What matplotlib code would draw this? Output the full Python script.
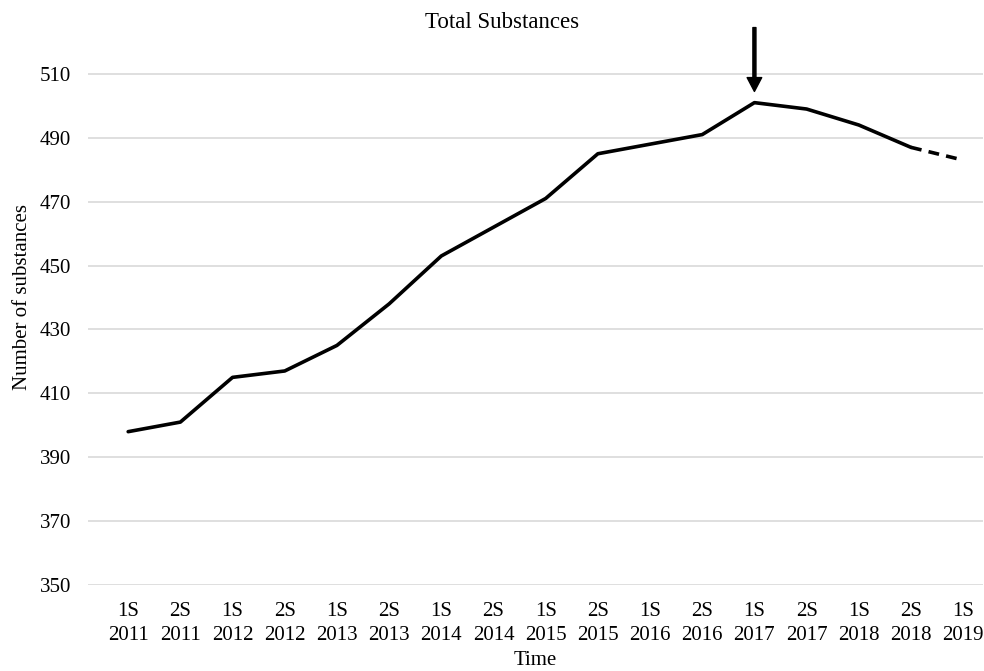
import matplotlib
matplotlib.use("Agg")
import matplotlib.pyplot as plt

plt.rcParams['font.family'] = ['Liberation Serif', 'DejaVu Serif']

categories = ["1S\n2011", "2S\n2011", "1S\n2012", "2S\n2012", "1S\n2013", "2S\n2013",
              "1S\n2014", "2S\n2014", "1S\n2015", "2S\n2015", "1S\n2016", "2S\n2016",
              "1S\n2017", "2S\n2017", "1S\n2018", "2S\n2018", "1S\n2019"]
values = [398, 401, 415, 417, 425, 438, 453, 462, 471, 485, 488, 491, 501, 499, 494, 487, 483]
yticks = [350, 370, 390, 410, 430, 450, 470, 490, 510]
arrow_index = 12

fig = plt.figure(figsize=(9.84, 6.71), dpi=100)
ax = fig.add_axes([88/984, 1-585/671, (983-88)/984, (585-10)/671])

x = list(range(len(values)))
ax.plot(x[:-1], values[:-1], color='black', lw=2.6, solid_joinstyle='round', solid_capstyle='round')
ax.plot(x[-2:], values[-2:], color='black', lw=2.6, linestyle=(0, (3, 2)))

ax.set_ylim(350, 530)
ax.set_xlim(-0.77, 16.38)
ax.set_yticks(yticks)
ax.set_xticks(x)
ax.set_xticklabels(categories, linespacing=1.3)
ax.tick_params(axis='both', length=0, labelsize=15)
ax.tick_params(axis='y', pad=12.3)
ax.tick_params(axis='x', pad=12.5)
ax.grid(axis='y', color='#d9d9d9', lw=1.2)
ax.set_axisbelow(True)
for s in ax.spines.values():
    s.set_visible(False)

ax.annotate('', xy=(arrow_index, 504.5), xytext=(arrow_index, 524.5),
            arrowprops=dict(facecolor='black', edgecolor='black', width=2.2,
                            headwidth=10.5, headlength=10, shrink=0))

ax.set_ylabel('Number of substances', fontsize=15, labelpad=5.7)
ax.set_xlabel('Time', fontsize=15, labelpad=4.5)
fig.text(502/984, 1-22/671, 'Total Substances', ha='center', va='center', fontsize=16.5)

fig.savefig('out.png', dpi=100)
